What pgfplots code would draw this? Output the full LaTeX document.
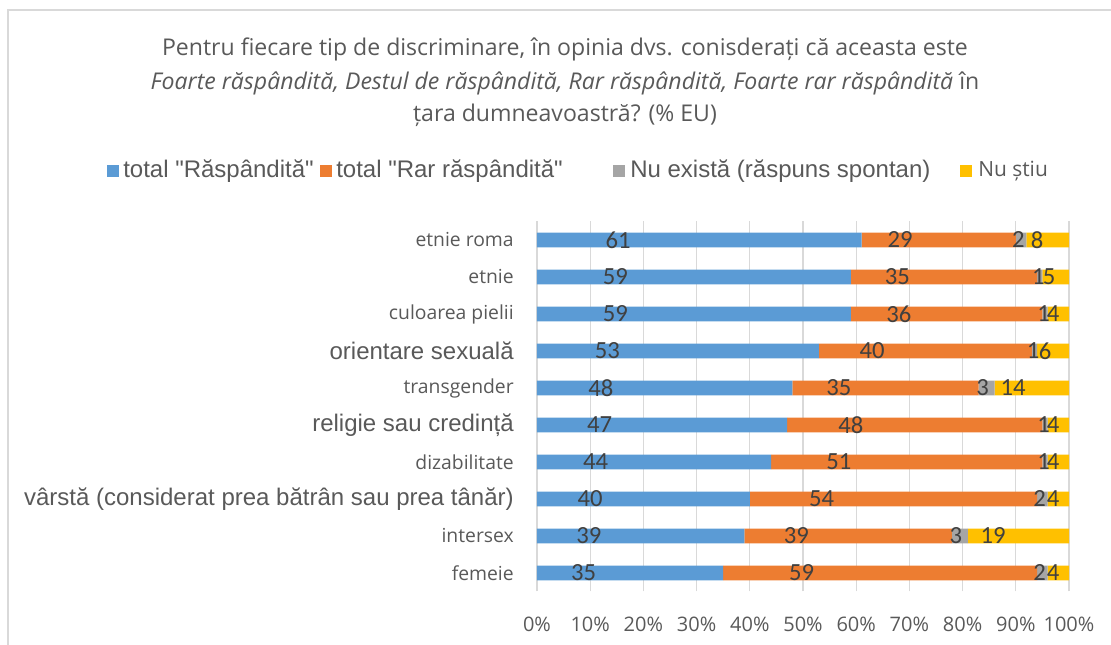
\documentclass[border=0pt]{standalone}
\usepackage{pgfplots}
\pgfplotsset{compat=1.18}
\usepackage{pgfplotstable}
\usepackage{fontspec}
\setmainfont{Open Sans}
\newfontfamily\arialf{Liberation Sans}
\newfontfamily\calf{Carlito}
\definecolor{cblue}{HTML}{5B9BD5}
\definecolor{corange}{HTML}{ED7D31}
\definecolor{cgray}{HTML}{A5A5A5}
\definecolor{cyellow}{HTML}{FFC000}
\definecolor{ctext}{HTML}{595959}
\definecolor{cdark}{HTML}{404040}
\definecolor{cgrid}{HTML}{D9D9D9}

\pgfplotstableread{
y a b c d
0 35 59 2 4
1 39 39 3 19
2 40 54 2 4
3 44 51 1 4
4 47 48 1 4
5 48 35 3 14
6 53 40 1 6
7 59 36 1 4
8 59 35 1 5
9 61 29 2 8
}\data

\begin{document}
\begin{tikzpicture}
\path[use as bounding box] (0,0) rectangle (833.25pt,483.75pt);
\draw[cgrid, line width=1pt] ({8*0.75pt},0) -- ({8*0.75pt},{(645-10)*0.75pt}) -- (833.25pt,{(645-10)*0.75pt});
% title
\node[anchor=base, text=ctext, font=\fontsize{17.3}{20}\selectfont] at ({565*0.75pt},{(645-56)*0.75pt}) {Pentru fiecare tip de discriminare, în opinia dvs. conisderați că aceasta este};
\node[anchor=base, text=ctext, font=\fontsize{17.3}{20}\selectfont\itshape] at ({565*0.75pt},{(645-90)*0.75pt}) {Foarte răspândită, Destul de răspândită, Rar răspândită, Foarte rar răspândită \upshape în};
\node[anchor=base, text=ctext, font=\fontsize{17.3}{20}\selectfont] at ({565*0.75pt},{(645-122)*0.75pt}) {țara dumneavoastră? (\% EU)};
% legend
\fill[cblue] ({107*0.75pt},{(645-177)*0.75pt}) rectangle ++(9pt,9pt);
\node[anchor=base west, inner sep=0pt, text=ctext, font=\arialf\fontsize{18}{21}\selectfont] at ({123*0.75pt},{(645-178)*0.75pt}) {total "Răspândită"};
\fill[corange] ({320*0.75pt},{(645-177)*0.75pt}) rectangle ++(9pt,9pt);
\node[anchor=base west, inner sep=0pt, text=ctext, font=\arialf\fontsize{18}{21}\selectfont] at ({336*0.75pt},{(645-178)*0.75pt}) {total "Rar răspândită"};
\fill[cgray] ({613*0.75pt},{(645-177)*0.75pt}) rectangle ++(9pt,9pt);
\node[anchor=base west, inner sep=0pt, text=ctext, font=\arialf\fontsize{18}{21}\selectfont] at ({630*0.75pt},{(645-178)*0.75pt}) {Nu există (răspuns spontan)};
\fill[cyellow] ({960*0.75pt},{(645-177)*0.75pt}) rectangle ++(9pt,9pt);
\node[anchor=base west, inner sep=0pt, text=ctext, font=\fontsize{15.7}{18}\selectfont] at ({978*0.75pt},{(645-177)*0.75pt}) {Nu știu};
\begin{axis}[
  at={(402.75pt,40.125pt)}, anchor=south west,
  scale only axis, width=399pt, height=277.5pt,
  xbar stacked, bar width=11pt,
  xmin=0, xmax=100, ymin=-0.5, ymax=9.5,
  axis line style={draw=none},
  tick style={draw=none},
  xmajorgrids, grid style={cgrid, line width=1pt},
  xtick={0,10,...,100},
  xticklabels={0\%,10\%,20\%,30\%,40\%,50\%,60\%,70\%,80\%,90\%,100\%},
  xticklabel style={anchor=center, yshift=-24.5pt, text=ctext, font=\fontsize{15}{18}\selectfont},
  ytick={0,...,9},
  yticklabels={femeie, intersex, {\arialf\fontsize{18}{21}\selectfont vârstă (considerat prea bătrân sau prea tânăr)}, dizabilitate, {\arialf\fontsize{18}{21}\selectfont religie sau credință}, transgender, {\arialf\fontsize{18}{21}\selectfont orientare sexuală}, culoarea pielii, etnie, etnie roma},
  yticklabel style={anchor=east, inner sep=0pt, xshift=-17.25pt, text=ctext, font=\fontsize{14.5}{17}\selectfont},
  point meta=explicit,
  nodes near coords={\pgfmathprintnumber[assume math mode=true]{\pgfplotspointmeta}},
  every node near coord/.append style={anchor=center, inner sep=0pt, xshift={-0.9975pt*\segw}, text=cdark, font=\calf\fontsize{18.5}{21}\selectfont},
]
\addplot[fill=cblue, draw=none, visualization depends on={\thisrow{a} \as \segw}] table[x=a, y=y, meta=a] {\data};
\addplot[fill=corange, draw=none, visualization depends on={\thisrow{b} \as \segw}] table[x=b, y=y, meta=b] {\data};
\addplot[fill=cgray, draw=none, visualization depends on={\thisrow{c} \as \segw}] table[x=c, y=y, meta=c] {\data};
\addplot[fill=cyellow, draw=none, visualization depends on={\thisrow{d} \as \segw}] table[x=d, y=y, meta=d] {\data};
\end{axis}
\end{tikzpicture}
\end{document}
